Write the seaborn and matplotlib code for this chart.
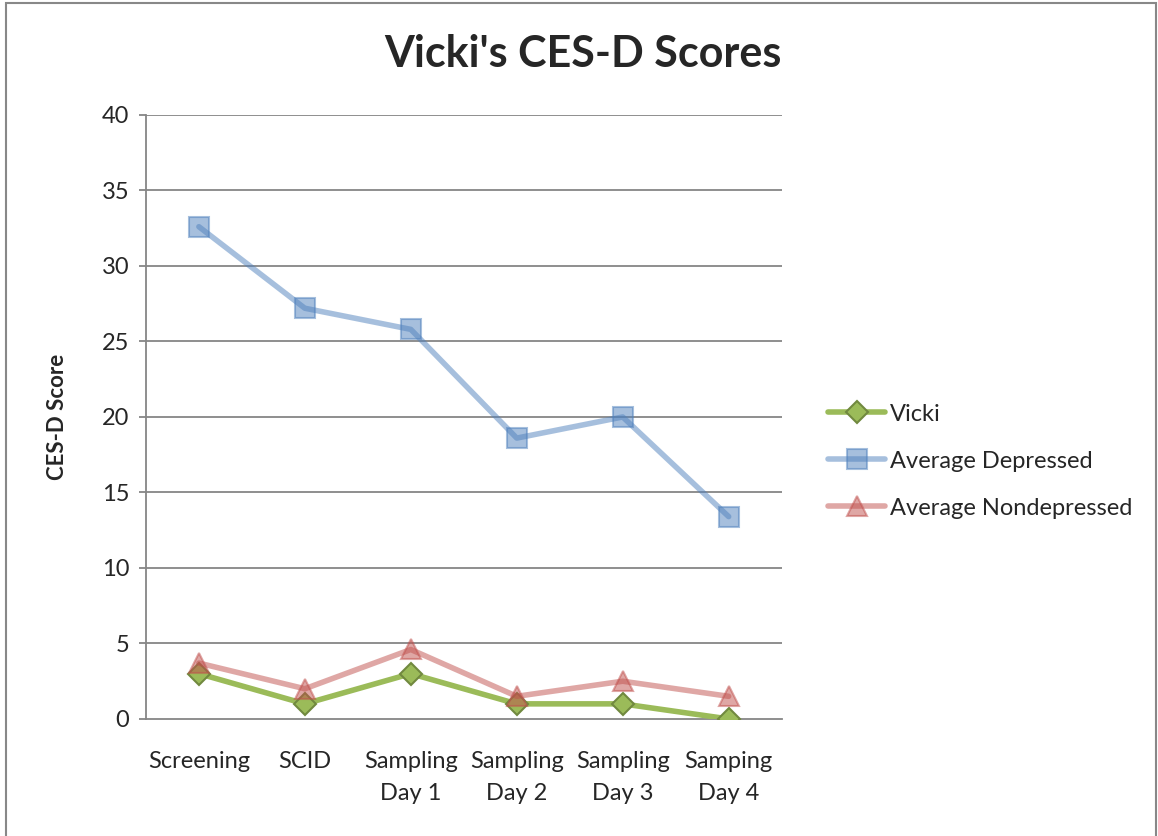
import numpy as np
import pandas as pd
import matplotlib
matplotlib.use("Agg")
import matplotlib.pyplot as plt
from matplotlib.patches import Rectangle
import seaborn as sns

# data
categories = ["Screening", "SCID", "Sampling\nDay 1", "Sampling\nDay 2",
              "Sampling\nDay 3", "Samping\nDay 4"]
vicki = [3, 1, 3, 1, 1, 0]
avg_depressed = [32.6, 27.2, 25.8, 18.6, 20.0, 13.4]
avg_nondepressed = [3.7, 2.0, 4.6, 1.5, 2.5, 1.5]
y_ticks = [0, 5, 10, 15, 20, 25, 30, 35, 40]

sns.set_theme(style="white")
plt.rcParams["font.family"] = ["Lato", "DejaVu Sans"]

df = pd.DataFrame({
    "pos": list(range(len(categories))) * 3,
    "score": vicki + avg_depressed + avg_nondepressed,
    "series": ["Vicki"] * 6 + ["Average Depressed"] * 6 + ["Average Nondepressed"] * 6,
})

fig = plt.figure(figsize=(11.58, 8.36), dpi=100)
ax = fig.add_axes([0.126, 0.140, 0.549, 0.7225])

# gridlines behind everything
for y in y_ticks[1:]:
    ax.axhline(y, color="#868686", lw=1.3, zorder=0)

styles = {
    "Vicki": dict(color="#9BBB59", marker="D", mfc="#9BBB59", mec="#71893F",
                  ms=11, alpha=1.0),
    "Average Depressed": dict(color="#4F81BD", marker="s", mfc="#4F81BD",
                              mec="#4F81BD", ms=15, alpha=0.5),
    "Average Nondepressed": dict(color="#C0504D", marker="^", mfc="#C0504D",
                                 mec="#C0504D", ms=15, alpha=0.5),
}

for name, st in styles.items():
    sub = df[df["series"] == name]
    sns.lineplot(data=sub, x="pos", y="score", ax=ax, color=st["color"],
                 lw=4, alpha=st["alpha"], marker=st["marker"], markersize=st["ms"],
                 markerfacecolor=st["mfc"], markeredgecolor=st["mec"],
                 markeredgewidth=1.5, label=name, zorder=3)

ax.set_xlim(-0.5, len(categories) - 0.5)
ax.set_ylim(0, 40)
ax.set_yticks(y_ticks)
ax.set_xticks(range(len(categories)))
ax.set_xticklabels(categories, fontsize=17, linespacing=1.65)
ax.tick_params(axis="y", labelsize=17, length=5, color="#868686", width=1.3,
               left=True, pad=7)
ax.tick_params(axis="x", length=0, pad=23)
for lbl in ax.get_xticklabels():
    lbl.set_verticalalignment("top")

for s in ["top", "right"]:
    ax.spines[s].set_visible(False)
for s in ["left", "bottom"]:
    ax.spines[s].set_color("#868686")
    ax.spines[s].set_linewidth(1.3)

ax.set_xlabel("")
ax.set_ylabel("CES-D Score", fontsize=16, fontweight="bold", labelpad=24)

fig.text(0.503, 0.935, "Vicki's CES-D Scores", ha="center", va="center",
         fontsize=31, fontweight="bold")

leg = ax.legend(loc="center left", bbox_to_anchor=(1.04, 0.427), frameon=False,
                fontsize=17, handlelength=2.4, labelspacing=1.1, handletextpad=0.2)

# outer chart border
fig.patches.append(Rectangle((0.005, -0.01), 0.993, 1.007, transform=fig.transFigure,
                             fill=False, edgecolor="#888888", lw=1.5))

fig.savefig("out.png", dpi=100)
